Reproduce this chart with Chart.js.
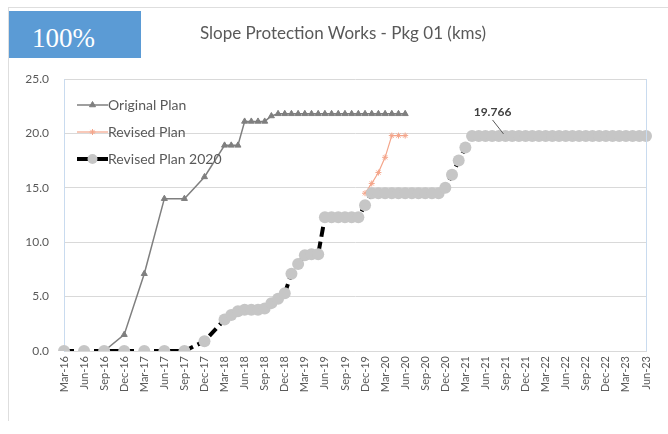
<!DOCTYPE html>
<html>
<head>
<meta charset="utf-8">
<script src="https://cdn.jsdelivr.net/npm/chart.js@4.4.1/dist/chart.umd.min.js"></script>
<style>
    html, body { margin: 0; padding: 0; background: #ffffff; }
    #wrap { position: relative; width: 668px; height: 434px; overflow: hidden; }
    #frame {
        position: absolute; left: 8px; top: 7px; width: 670px; height: 413px;
        border-top: 1px solid #dedede; border-left: 1px solid #dedede;
    }
    #badge {
        position: absolute; left: 9px; top: 11px; width: 132px; height: 47px;
        background: #5b9bd5; color: #ffffff; box-sizing: border-box;
        padding: 14px 0 0 23px; font: 27px/1 'Liberation Serif', 'DejaVu Serif', serif;
    }
    #title {
        position: absolute; left: 143px; top: 22px; width: 400px; text-align: center;
        font: 17px/22px Lato, 'Open Sans', sans-serif; color: #595959;
    }
    #chart { position: absolute; left: 0; top: 0; }
</style>
</head>
<body>
<div id="wrap">
    <div id="frame"></div>
    <canvas id="chart" width="668" height="434"></canvas>
    <div id="badge">100%</div>
    <div id="title">Slope Protection Works - Pkg 01 (kms)</div>
</div>
<script>
document.addEventListener('DOMContentLoaded', () => {
    // monthly categories Mar-16 .. Jun-23, one label shown every 3 months
    const monthNames = ['Jan', 'Feb', 'Mar', 'Apr', 'May', 'Jun', 'Jul', 'Aug', 'Sep', 'Oct', 'Nov', 'Dec'];
    const labels = [];
    for (let i = 0; i < 88; i++) {
        labels.push(monthNames[(2 + i) % 12] + '-' + (16 + Math.floor((2 + i) / 12)));
    }

    // each row = 12 months starting at Mar
    const originalPlan = [
        null, null, null, null, null, null, 0, null, null, 1.5, null, null,
        7.1, null, null, 14.0, null, null, 14.0, null, null, 16.0, null, null,
        18.9, 18.9, 18.9, 21.1, 21.1, 21.1, 21.1, 21.6, 21.8, 21.8, 21.8, 21.8,
        21.8, 21.8, 21.8, 21.8, 21.8, 21.8, 21.8, 21.8, 21.8, 21.8, 21.8, 21.8,
        21.8, 21.8, 21.8, 21.8, null, null, null, null, null, null, null, null,
        null, null, null, null, null, null, null, null, null, null, null, null,
        null, null, null, null, null, null, null, null, null, null, null, null,
        null, null, null, null
    ];

    const revisedPlan = [
        null, null, null, null, null, null, null, null, null, null, null, null,
        null, null, null, null, null, null, null, null, null, null, null, null,
        null, null, null, null, null, null, null, null, null, null, null, null,
        null, null, null, null, null, null, null, null, null, 14.5, 15.4, 16.4,
        17.8, 19.8, 19.8, 19.8, null, null, null, null, null, null, null, null,
        null, null, null, null, null, null, null, null, null, null, null, null,
        null, null, null, null, null, null, null, null, null, null, null, null,
        null, null, null, null
    ];

    const revisedPlan2020 = [
        0, null, null, 0, null, null, 0, null, null, 0, null, null,
        0, null, null, 0, null, null, 0, null, null, 0.9, null, null,
        2.9, 3.3, 3.65, 3.8, 3.8, 3.8, 3.9, 4.4, 4.8, 5.3, 7.1, 8.0,
        8.8, 8.9, 8.9, 12.3, 12.3, 12.3, 12.3, 12.3, 12.3, 13.4, 14.5, 14.5,
        14.5, 14.5, 14.5, 14.5, 14.5, 14.5, 14.5, 14.5, 14.5, 15.0, 16.2, 17.5,
        18.7, 19.766, 19.766, 19.766, 19.766, 19.766, 19.766, 19.766, 19.766, 19.766, 19.766, 19.766,
        19.766, 19.766, 19.766, 19.766, 19.766, 19.766, 19.766, 19.766, 19.766, 19.766, 19.766, 19.766,
        19.766, 19.766, 19.766, 19.766
    ];

    const yTicks = [0, 5, 10, 15, 20, 25];
    const labelIndex = 66; // where the 19.766 callout sits

    const textColor = '#595959';
    const gridColor = '#d9d9d9';
    const fontFamily = "Lato, 'Open Sans', sans-serif";

    // legend inside plot + value callout + plot right border
    const extras = {
        id: 'extras',
        afterDraw(chart) {
            const ctx = chart.ctx;
            const area = chart.chartArea;
            ctx.save();

            ctx.strokeStyle = '#c9dbef';
            ctx.lineWidth = 1;
            ctx.beginPath();
            ctx.moveTo(area.right + 0.5, area.top);
            ctx.lineTo(area.right + 0.5, area.bottom);
            ctx.stroke();

            const legendItems = [
                { text: 'Original Plan', y: 105, ds: 1 },
                { text: 'Revised Plan', y: 132, ds: 2 },
                { text: 'Revised Plan 2020', y: 159, ds: 0 }
            ];
            legendItems.forEach(item => {
                const ds = chart.data.datasets[item.ds];
                ctx.save();
                ctx.strokeStyle = ds.borderColor;
                ctx.lineWidth = ds.borderWidth;
                ctx.setLineDash(ds.borderDash ? [11, 9] : []);
                ctx.beginPath();
                ctx.moveTo(77, item.y);
                ctx.lineTo(108, item.y);
                ctx.stroke();
                ctx.setLineDash([]);
                ctx.fillStyle = ds.pointBackgroundColor;
                ctx.strokeStyle = ds.pointBorderColor;
                ctx.lineWidth = ds.pointBorderWidth;
                Chart.helpers.drawPoint(ctx, {
                    pointStyle: ds.pointStyle,
                    radius: item.ds === 0 ? 5 : ds.pointRadius,
                    rotation: 0,
                    borderWidth: ds.pointBorderWidth
                }, 92.5, item.y);
                ctx.restore();

                ctx.fillStyle = textColor;
                ctx.font = '14px ' + fontFamily;
                ctx.textBaseline = 'middle';
                ctx.textAlign = 'left';
                ctx.fillText(item.text, 108, item.y);
            });

            const pt = chart.getDatasetMeta(0).data[labelIndex];
            ctx.strokeStyle = textColor;
            ctx.lineWidth = 1;
            ctx.beginPath();
            ctx.moveTo(pt.x - 13, pt.y - 16);
            ctx.lineTo(pt.x - 2, pt.y - 2);
            ctx.stroke();
            ctx.fillStyle = '#404040';
            ctx.font = 'bold 12px ' + fontFamily;
            ctx.textAlign = 'center';
            ctx.textBaseline = 'middle';
            ctx.fillText(revisedPlan2020[labelIndex].toFixed(3), pt.x - 13, pt.y - 24);

            ctx.restore();
        }
    };

    const ctx = document.getElementById('chart').getContext('2d');
    new Chart(ctx, {
        type: 'line',
        data: {
            labels: labels,
            datasets: [{
                label: 'Revised Plan 2020',
                data: revisedPlan2020,
                order: 0,
                borderColor: '#000000',
                borderWidth: 4,
                borderDash: [10, 5],
                pointStyle: 'circle',
                pointRadius: 6,
                pointBackgroundColor: '#c6c6c6',
                pointBorderColor: '#c6c6c6',
                pointBorderWidth: 0,
                spanGaps: true,
                tension: 0
            }, {
                label: 'Original Plan',
                data: originalPlan,
                order: 1,
                borderColor: '#7f7f7f',
                borderWidth: 1.5,
                pointStyle: 'triangle',
                pointRadius: 3.5,
                pointBackgroundColor: '#7f7f7f',
                pointBorderColor: '#7f7f7f',
                pointBorderWidth: 1,
                spanGaps: true,
                tension: 0
            }, {
                label: 'Revised Plan',
                data: revisedPlan,
                order: 2,
                borderColor: '#f4a58a',
                borderWidth: 1.2,
                pointStyle: 'star',
                pointRadius: 3,
                pointBackgroundColor: '#f4a58a',
                pointBorderColor: '#f4a58a',
                pointBorderWidth: 1,
                spanGaps: true,
                tension: 0
            }]
        },
        options: {
            responsive: false,
            animation: false,
            devicePixelRatio: 1,
            layout: { padding: { top: 79, left: 0, right: 22, bottom: 0 } },
            plugins: {
                legend: { display: false },
                title: { display: false },
                tooltip: { enabled: false }
            },
            scales: {
                x: {
                    offset: false,
                    afterFit: scale => { scale.height = 83; },
                    grid: { display: false, drawTicks: false },
                    border: { color: gridColor },
                    ticks: {
                        autoSkip: false,
                        minRotation: 90,
                        maxRotation: 90,
                        padding: 5,
                        color: textColor,
                        font: { family: fontFamily, size: 11 },
                        callback: (value, index) => index % 3 === 0 ? labels[index] : ''
                    }
                },
                y: {
                    min: yTicks[0],
                    max: yTicks[yTicks.length - 1],
                    afterFit: scale => { scale.width = 64; },
                    afterBuildTicks: scale => { scale.ticks = yTicks.map(v => ({ value: v })); },
                    grid: { color: gridColor, drawTicks: false },
                    border: { color: '#c9dbef' },
                    ticks: {
                        padding: 15,
                        color: textColor,
                        font: { family: fontFamily, size: 12 },
                        callback: value => value.toFixed(1)
                    }
                }
            }
        },
        plugins: [extras]
    });
});
</script>
</body>
</html>
